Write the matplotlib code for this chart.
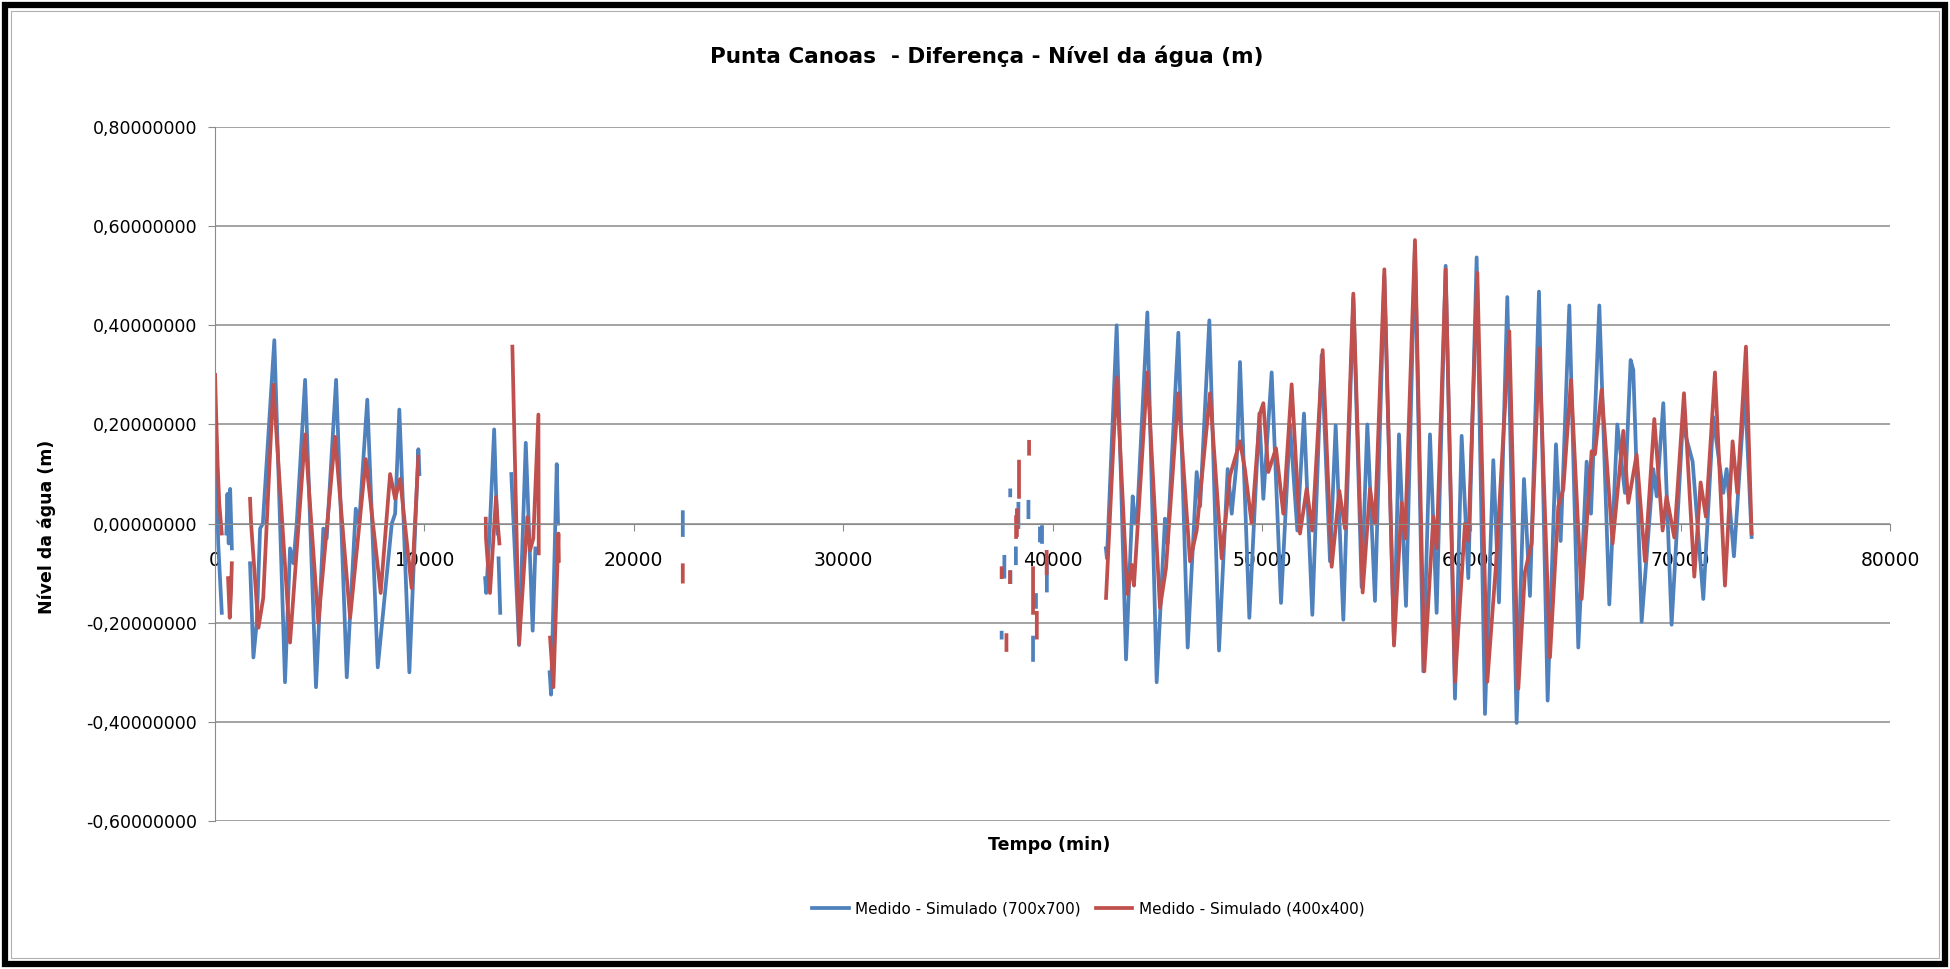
import numpy as np
import matplotlib
matplotlib.use("Agg")
import matplotlib.pyplot as plt
from matplotlib.patches import Rectangle
from matplotlib.ticker import FuncFormatter

nan = np.nan

# Medido - Simulado (700x700): tempo (min) / diferença (m), NaN = falha nos dados
t_700 = [0, 150, 320, nan,
         540, 590, 650, 720, 800, nan,
         1670, 1830, 1990, 2150, 2280, 2830, 3340, 3580, 3740, 3900, 4300,
         4820, 5170, 5330, 5780, 6290, 6720, 6880, 7270, 7770, 8440, 8600,
         8800, 9280, 9710, 9760, nan,
         12900, 12950, 13100, 13330, 13430, 13500, nan,
         13540, 13620, nan,
         14150, 14520, 14840, 15170, 15300, nan,
         15980, 16050, 16320, 16380, nan,
         22340, 22340, nan, 37570, 37570, nan, 37700, 37700, nan,
         37980, 37980, nan, 37990, 37990, nan, 38250, 38250, nan,
         38370, 38370, nan, 38850, 38850, nan, 39070, 39070, nan,
         39210, 39210, nan, 39400, 39400, nan, 39500, 39500, nan,
         39730, 39730, nan,
         42550, 42600, 43065, 43511, 43829, 43940, 44050, 44530, 44975,
         45373, 45490, 46010, 46456, 46886, 47050, 47491, 47952, 48366,
         48560, 48796, 48955, 49401, 49880, 50070, 50468, 50914, 51344,
         51694, 52012, 52410, 52856, 53254, 53525, 53891, 54368, 54766,
         55037, 55403, 55849, 56311, 56549, 56884, 57313, 57711, 58030,
         58348, 58778, 59224, 59543, 59861, 60259, 60657, 61055, 61325,
         61723, 62169, 62520, 62806, 63236, 63650, 64048, 64271, 64685,
         65114, 65513, 65720, 66118, 66595, 66977, 67343, 67614, 67740,
         68140, 68697, 68860, 69174, 69572, 70100, 70575, 71085, 71562,
         72040, 72200, 72549, 73074, 73393]
v_700 = [0.24, -0.04, -0.18, nan,
         -0.02, 0.06, -0.04, 0.07, -0.05, nan,
         -0.08, -0.27, -0.20, -0.01, 0.00, 0.37, -0.32, -0.05, -0.08, 0.00, 0.29,
         -0.33, -0.01, -0.03, 0.29, -0.31, 0.03, 0.00, 0.25, -0.29, 0.00, 0.02,
         0.23, -0.30, 0.15, 0.10, nan,
         -0.11, -0.14, -0.03, 0.19, 0.05, -0.02, nan,
         -0.07, -0.18, nan,
         0.10, -0.245, 0.163, -0.216, -0.05, nan,
         -0.30, -0.345, 0.12, 0.00, nan,
         0.023, -0.023, nan, -0.22, -0.23, nan, -0.067, -0.107, nan,
         0.067, 0.057, nan, -0.098, -0.118, nan, -0.05, -0.08, nan,
         0.04, -0.007, nan, 0.044, 0.013, nan, -0.23, -0.275, nan,
         -0.144, -0.168, nan, -0.01, -0.034, nan, -0.007, -0.037, nan,
         -0.074, -0.135, nan,
         -0.05, -0.07, 0.40, -0.274, 0.055, 0.00, 0.02, 0.426, -0.32,
         0.01, -0.04, 0.385, -0.25, 0.104, 0.035, 0.41, -0.256, 0.11,
         0.02, 0.125, 0.326, -0.19, 0.222, 0.05, 0.305, -0.16, 0.20,
         -0.014, 0.222, -0.184, 0.34, -0.076, 0.198, -0.194, 0.455, -0.128,
         0.20, -0.156, 0.50, -0.243, 0.18, -0.166, 0.56, -0.298, 0.18,
         -0.18, 0.52, -0.353, 0.177, -0.11, 0.537, -0.384, 0.128, -0.159,
         0.457, -0.402, 0.09, -0.146, 0.468, -0.357, 0.16, -0.035, 0.44,
         -0.25, 0.125, 0.02, 0.44, -0.163, 0.20, 0.062, 0.33, 0.31,
         -0.198, 0.11, 0.055, 0.243, -0.204, 0.20, 0.125, -0.152, 0.215,
         0.062, 0.11, -0.066, 0.27, -0.027]

# Medido - Simulado (400x400)
t_400 = [0, 50, 120, 200, 320, nan,
         620, 700, 760, 800, nan,
         1670, 1720, 2070, 2300, 2780, 3580, 4300, 4930, 5730, 6450, 7200,
         7910, 8360, 8600, 8840, 9390, 9710, nan,
         12930, 12940, 13130, 13420, 13500, 13580, nan,
         14200, 14519, 14917, 15044, 15200, 15443, 15460, nan,
         16000, 16160, 16400, 16420, nan,
         22340, 22340, nan, 37570, 37570, nan, 37800, 37800, nan,
         37970, 37970, nan, 38260, 38260, nan, 38300, 38300, nan,
         38400, 38400, nan, 38880, 38880, nan, 39070, 39070, nan,
         39250, 39250, nan, 39720, 39720, nan,
         42556, 43065, 43575, 43781, 43890, 44530, 45135, 45420, 46010,
         46567, 46886, 47523, 48080, 48478, 48955, 49190, 49513, 49911,
         50070, 50309, 50675, 51025, 51423, 51821, 52140, 52410, 52904,
         53334, 53700, 53970, 54368, 54814, 55164, 55403, 55849, 56311,
         56677, 56836, 57313, 57759, 58189, 58348, 58778, 59224, 59702,
         59861, 60291, 60768, 61182, 61819, 62249, 62567, 62886, 63252,
         63761, 64160, 64400, 64764, 65274, 65751, 65910, 66229, 66754,
         67264, 67502, 67900, 68299, 68744, 69142, 69330, 69700, 70162,
         70655, 70957, 71210, 71642, 72120, 72485, 72708, 73122, 73393]
v_400 = [0.30, 0.22, 0.12, 0.04, -0.02, nan,
         -0.11, -0.19, -0.14, -0.08, nan,
         0.05, 0.00, -0.21, -0.15, 0.28, -0.24, 0.18, -0.20, 0.175, -0.19, 0.13,
         -0.14, 0.10, 0.05, 0.09, -0.13, 0.135, nan,
         0.01, -0.03, -0.14, 0.054, 0.00, -0.04, nan,
         0.357, -0.243, 0.013, -0.054, -0.03, 0.22, -0.06, nan,
         -0.23, -0.33, -0.02, -0.075, nan,
         -0.084, -0.117, nan, -0.09, -0.108, nan, -0.225, -0.255, nan,
         -0.098, -0.118, nan, 0.013, -0.027, nan, 0.027, -0.023, nan,
         0.125, 0.054, nan, 0.165, 0.141, nan, -0.09, -0.18, nan,
         -0.18, -0.23, nan, -0.057, -0.10, nan,
         -0.15, 0.295, -0.142, -0.083, -0.125, 0.305, -0.17, -0.09, 0.263,
         -0.076, -0.014, 0.263, -0.07, 0.097, 0.166, 0.11, 0.00, 0.222,
         0.243, 0.104, 0.152, 0.02, 0.281, -0.02, 0.07, -0.014, 0.35,
         -0.087, 0.066, -0.01, 0.464, -0.139, 0.07, 0.00, 0.513, -0.246,
         0.042, -0.03, 0.572, -0.298, 0.014, -0.05, 0.513, -0.319, 0.00,
         -0.035, 0.506, -0.319, -0.083, 0.388, -0.333, -0.097, -0.04, 0.353,
         -0.27, 0.035, 0.07, 0.29, -0.152, 0.146, 0.14, 0.27, -0.04,
         0.187, 0.042, 0.139, -0.076, 0.211, -0.014, 0.055, -0.028, 0.263,
         -0.107, 0.083, 0.014, 0.305, -0.125, 0.166, 0.062, 0.357, -0.02]

x_ticks = list(range(0, 80001, 10000))
y_ticks = [-0.6, -0.4, -0.2, 0.0, 0.2, 0.4, 0.6, 0.8]

blue = "#4F81BD"
red = "#C0504D"
grid_col = "#8a8a8a"

fig = plt.figure(figsize=(19.5, 9.69), dpi=100)
ax = fig.add_axes([0.1103, 0.1527, 0.8589, 0.7162])

ax.plot(t_700, v_700, color=blue, lw=2.7, solid_joinstyle="round",
        label="Medido - Simulado (700x700)")
ax.plot(t_400, v_400, color=red, lw=2.7, solid_joinstyle="round",
        label="Medido - Simulado (400x400)")

ax.set_xlim(0, 80000)
ax.set_ylim(-0.6, 0.8)
ax.set_xticks(x_ticks)
ax.set_yticks(y_ticks)
ax.xaxis.set_major_formatter(FuncFormatter(lambda x, p: f"{int(x)}"))
ax.yaxis.set_major_formatter(FuncFormatter(lambda y, p: f"{y:.8f}".replace(".", ",")))
ax.yaxis.grid(True, color=grid_col, lw=1.1)
ax.set_axisbelow(True)

for s in ["top", "right"]:
    ax.spines[s].set_visible(False)
ax.spines["bottom"].set_position(("data", 0))
ax.spines["bottom"].set_color(grid_col)
ax.spines["left"].set_color(grid_col)
ax.tick_params(axis="x", direction="out", length=5, color=grid_col, pad=15,
               labelsize=13.5)
ax.tick_params(axis="y", direction="out", length=5, color=grid_col, pad=8,
               labelsize=12.5)

fig.text(0.506, 0.942, "Punta Canoas  - Diferença - Nível da água (m)",
         ha="center", va="center", fontsize=15.5, fontweight="bold")
fig.text(0.024, 0.456, "Nível da água (m)", rotation=90, ha="center",
         va="center", fontsize=12.5, fontweight="bold")
fig.text(0.538, 0.128, "Tempo (min)", ha="center", va="center",
         fontsize=12.5, fontweight="bold")

fig.legend(loc="center", bbox_to_anchor=(0.558, 0.062), ncol=2, frameon=False,
           fontsize=11, handlelength=2.4, handletextpad=0.4, columnspacing=1.0)

# moldura do gráfico
fig.patches.append(Rectangle((0.0026, 0.0052), 0.9948, 0.9896, transform=fig.transFigure,
                             fill=False, edgecolor="black", lw=4.5))
fig.patches.append(Rectangle((0.0055, 0.011), 0.989, 0.978, transform=fig.transFigure,
                             fill=False, edgecolor="#b0b0b0", lw=0.8))

fig.savefig("out.png", dpi=100)
